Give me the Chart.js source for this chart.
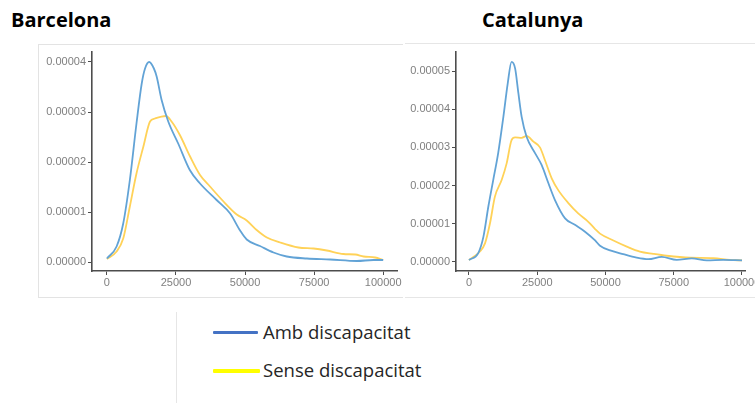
<!DOCTYPE html>
<html>
<head>
<meta charset="utf-8">
<script src="https://cdn.jsdelivr.net/npm/chart.js@4/dist/chart.umd.min.js"></script>
<style>
  html, body { margin:0; padding:0; background:#fff; width:755px; height:403px; overflow:hidden; }
  .abs { position:absolute; }
  .title { font-family:"Open Sans", sans-serif; font-weight:bold; font-size:20px; line-height:20px; color:#000; white-space:nowrap; }
  .leg { font-family:"Open Sans", sans-serif; font-size:18.5px; line-height:20px; color:#262626; white-space:nowrap; }
</style>
</head>
<body>
<div class="abs title" style="left:11px; top:10px;">Barcelona</div>
<div class="abs title" style="left:482px; top:10px;">Catalunya</div>

<div class="abs" style="left:38px; top:44px; width:365px; height:254px; box-sizing:border-box; border-top:1px solid #e3e3e3; border-left:1px solid #e3e3e3; border-bottom:1px solid #e3e3e3;"></div>
<div class="abs" style="left:405px; top:43px; width:350px; height:255px; box-sizing:border-box; border-top:1px solid #e6e6e6; border-bottom:1px solid #e6e6e6;"></div>

<div class="abs" style="left:38px; top:44px; width:365px; height:254px;"><canvas id="bcn" width="365" height="254"></canvas></div>
<div class="abs" style="left:405px; top:44px; width:350px; height:254px;"><canvas id="cat" width="350" height="254"></canvas></div>

<div class="abs" style="left:176px; top:312px; width:1px; height:91px; background:#e6e6e6;"></div>
<div class="abs" style="left:213px; top:331px; width:45px; height:3px; background:#4472C4; border-radius:1px;"></div>
<div class="abs leg" style="left:263px; top:322px;">Amb discapacitat</div>
<div class="abs" style="left:213px; top:369px; width:47px; height:4px; background:#FFFF00; border-radius:1px;"></div>
<div class="abs leg" style="left:263px; top:360px;">Sense discapacitat</div>

<script>
// ---- Data (density values) ----
const seriesNames = ["Amb discapacitat", "Sense discapacitat"];
const xTicks = [0, 25000, 50000, 75000, 100000];
const bcnYTicks = [0, 1e-5, 2e-5, 3e-5, 4e-5];
const catYTicks = [0, 1e-5, 2e-5, 3e-5, 4e-5, 5e-5];

// Barcelona
const bcnAmbX = [0, 3500, 5900, 8300, 10700, 12600, 13800, 15300, 17000, 18000, 19800, 22200, 25800, 30000, 33700, 39700, 44600, 48200, 50600, 55400, 60300, 65100, 72400, 80800, 90500, 96500, 100000];
const bcnAmbY = [0.07e-5, 0.31e-5, 0.77e-5, 1.64e-5, 2.77e-5, 3.57e-5, 3.87e-5, 4.00e-5, 3.87e-5, 3.71e-5, 3.24e-5, 2.81e-5, 2.37e-5, 1.84e-5, 1.57e-5, 1.24e-5, 0.97e-5, 0.63e-5, 0.45e-5, 0.32e-5, 0.19e-5, 0.11e-5, 0.07e-5, 0.05e-5, 0.02e-5, 0.04e-5, 0.04e-5];
const bcnSenseX = [0, 3500, 5900, 8300, 10700, 13200, 15600, 17400, 21400, 23400, 26400, 30100, 33700, 37300, 42200, 47000, 50600, 54200, 57900, 62700, 69300, 74800, 79600, 85600, 89900, 92900, 97100, 100000];
const bcnSenseY = [0.06e-5, 0.21e-5, 0.47e-5, 1.11e-5, 1.77e-5, 2.31e-5, 2.81e-5, 2.87e-5, 2.92e-5, 2.81e-5, 2.54e-5, 2.11e-5, 1.74e-5, 1.51e-5, 1.21e-5, 0.95e-5, 0.83e-5, 0.64e-5, 0.49e-5, 0.39e-5, 0.29e-5, 0.27e-5, 0.23e-5, 0.16e-5, 0.15e-5, 0.11e-5, 0.09e-5, 0.04e-5];

// Catalunya
const catAmbX = [0, 3400, 5300, 7100, 8900, 10700, 12600, 14200, 15600, 16900, 18100, 19300, 21100, 24200, 26600, 29100, 31500, 35200, 38800, 42500, 46200, 48000, 51700, 56500, 61400, 65700, 70600, 76100, 81600, 87100, 93200, 100000];
const catAmbY = [0.05e-5, 0.23e-5, 0.66e-5, 1.45e-5, 2.15e-5, 2.85e-5, 3.80e-5, 4.68e-5, 5.24e-5, 5.07e-5, 4.42e-5, 3.80e-5, 3.28e-5, 2.85e-5, 2.54e-5, 2.06e-5, 1.62e-5, 1.14e-5, 0.97e-5, 0.79e-5, 0.56e-5, 0.42e-5, 0.30e-5, 0.20e-5, 0.11e-5, 0.07e-5, 0.13e-5, 0.05e-5, 0.09e-5, 0.04e-5, 0.05e-5, 0.04e-5];
const catSenseX = [0, 4000, 5900, 7700, 9500, 12000, 13800, 15600, 16900, 19300, 21100, 23600, 26000, 27800, 30300, 32700, 36400, 40000, 43700, 46200, 48000, 52900, 57800, 62600, 67500, 72400, 81000, 89500, 95600, 100000];
const catSenseY = [0.05e-5, 0.27e-5, 0.49e-5, 1.01e-5, 1.71e-5, 2.15e-5, 2.58e-5, 3.19e-5, 3.26e-5, 3.25e-5, 3.30e-5, 3.15e-5, 3.00e-5, 2.67e-5, 2.19e-5, 1.88e-5, 1.54e-5, 1.27e-5, 1.05e-5, 0.86e-5, 0.74e-5, 0.56e-5, 0.40e-5, 0.27e-5, 0.21e-5, 0.16e-5, 0.11e-5, 0.10e-5, 0.05e-5, 0.04e-5];

// ---- Chart construction ----
const blueCurve = "#62a3d6";
const yellowCurve = "#ffd258";
const axisColor = "#4d4d4d";
const tickColor = "#7f7f7f";

function pts(xs, ys) { return xs.map((x, i) => ({ x: x, y: ys[i] })); }

function makeChart(id, ambX, ambY, senseX, senseY, yTicks, cfg) {
  return new Chart(document.getElementById(id), {
    type: "line",
    data: {
      datasets: [
        { label: seriesNames[0], data: pts(ambX, ambY), borderColor: blueCurve, borderWidth: 1.8, pointRadius: 0, cubicInterpolationMode: "monotone", fill: false },
        { label: seriesNames[1], data: pts(senseX, senseY), borderColor: yellowCurve, borderWidth: 1.8, pointRadius: 0, cubicInterpolationMode: "monotone", fill: false }
      ]
    },
    options: {
      responsive: false,
      devicePixelRatio: 1,
      animation: false,
      events: [],
      layout: { padding: { left: 0, right: cfg.padRight, top: 8, bottom: 0 } },
      plugins: { legend: { display: false }, tooltip: { enabled: false }, title: { display: false } },
      scales: {
        x: {
          type: "linear",
          min: cfg.xMin, max: cfg.xMax,
          afterBuildTicks: s => { s.ticks = xTicks.map(v => ({ value: v })); },
          afterFit: s => { s.height = 27; s.paddingLeft = 0; s.paddingRight = 0; },
          ticks: { color: tickColor, font: { family: "'Liberation Sans', Arial, sans-serif", size: 11 }, padding: 1, maxRotation: 0, autoSkip: false, callback: v => String(v) },
          grid: { drawOnChartArea: false, drawTicks: true, tickLength: 4, tickColor: axisColor, lineWidth: 1 },
          border: { display: true, color: axisColor, width: 1.6 }
        },
        y: {
          min: cfg.yMin, max: cfg.yMax,
          afterBuildTicks: s => { s.ticks = yTicks.map(v => ({ value: v })); },
          afterFit: s => { s.width = cfg.yWidth; s.paddingTop = 0; s.paddingBottom = 0; },
          ticks: { color: tickColor, font: { family: "'Liberation Sans', Arial, sans-serif", size: 11 }, padding: 2, autoSkip: false, callback: v => Number(v).toFixed(5) },
          grid: { drawOnChartArea: false, drawTicks: true, tickLength: 4, tickColor: axisColor, lineWidth: 1 },
          border: { display: true, color: axisColor, width: 1.6 }
        }
      }
    }
  });
}

makeChart("bcn", bcnAmbX, bcnAmbY, bcnSenseX, bcnSenseY, bcnYTicks,
  { xMin: -5400, xMax: 105000, yMin: -0.18e-5, yMax: 4.2e-5, yWidth: 54, padRight: 6 });
makeChart("cat", catAmbX, catAmbY, catSenseX, catSenseY, catYTicks,
  { xMin: -4750, xMax: 101100, yMin: -0.24e-5, yMax: 5.5e-5, yWidth: 51, padRight: 10 });
</script>
</body>
</html>
